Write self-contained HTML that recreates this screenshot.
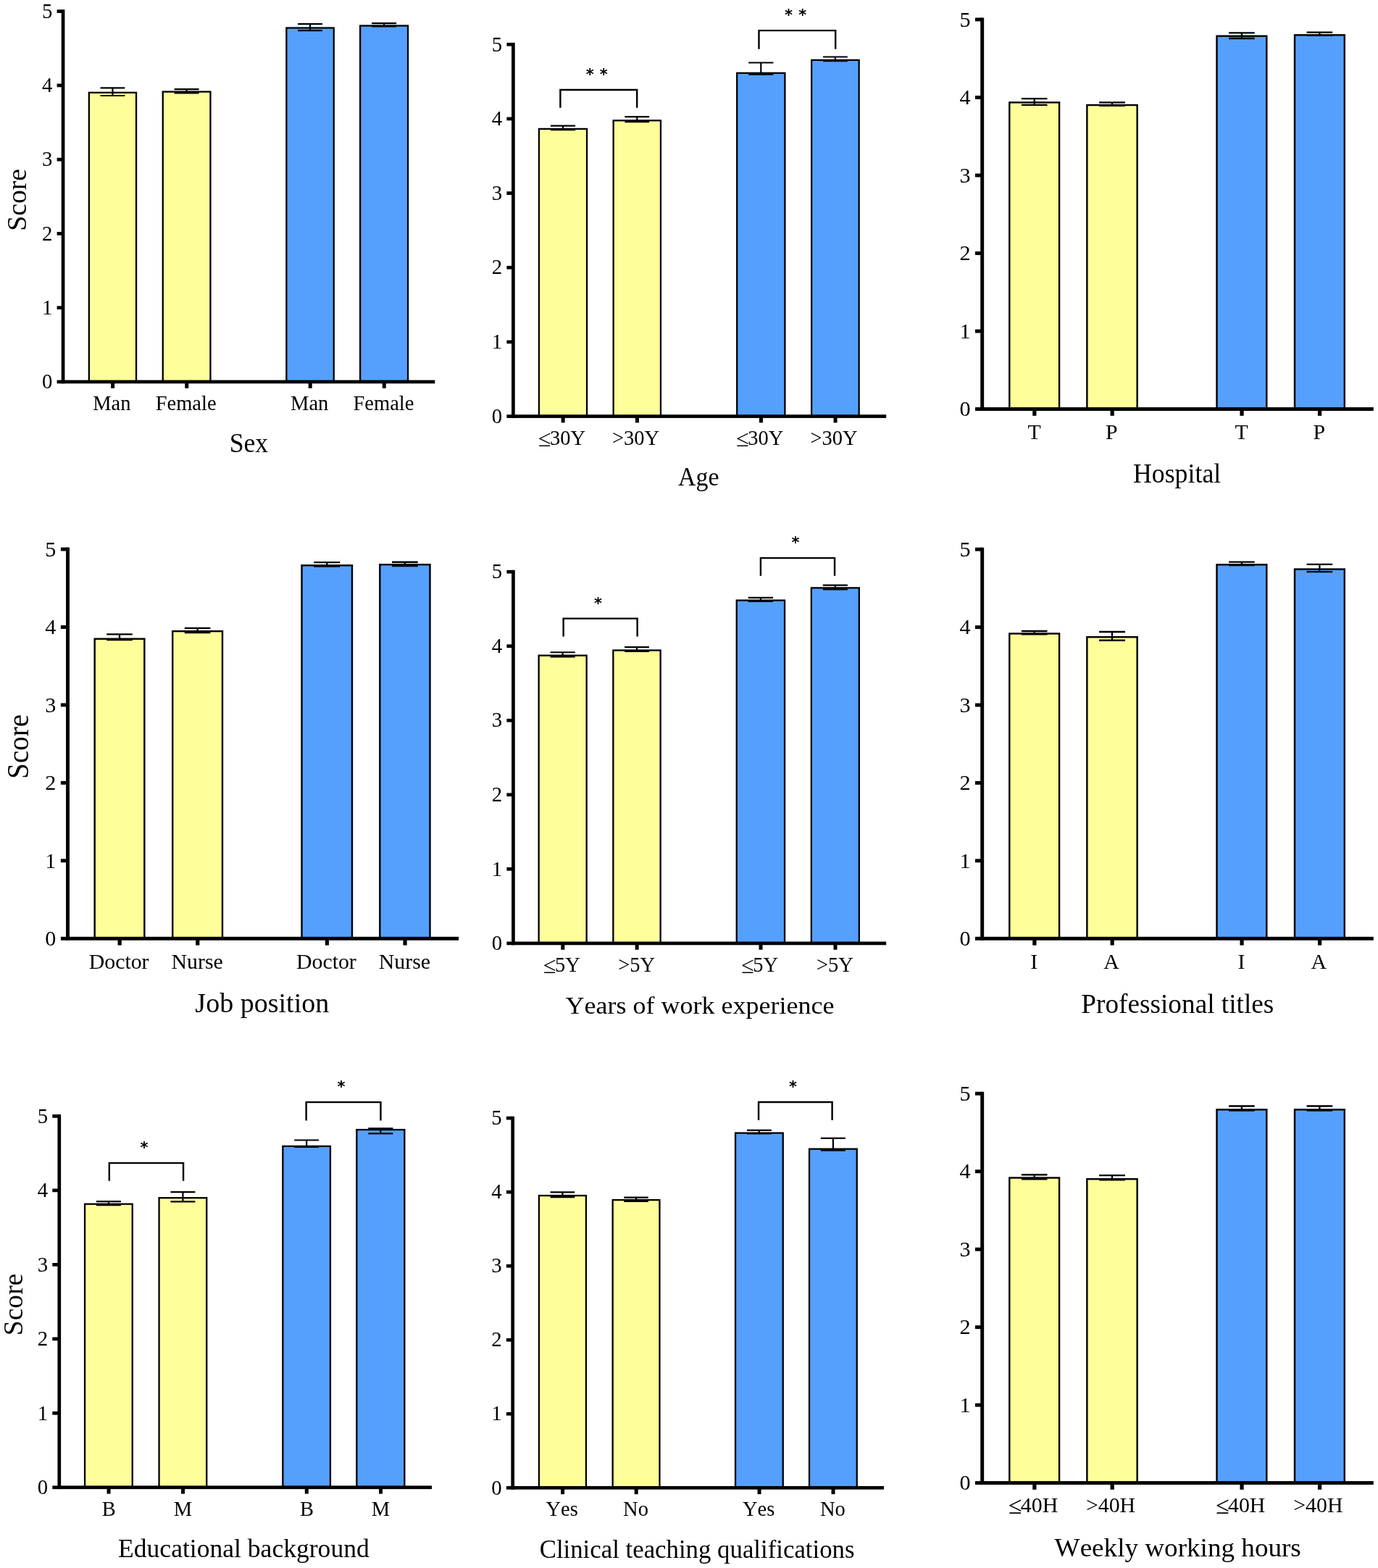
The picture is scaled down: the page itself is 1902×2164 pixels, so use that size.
<!DOCTYPE html>
<html><head><meta charset="utf-8"><title>Score by group</title>
<style>
html,body{margin:0;padding:0;background:#fff;}
body{width:1902px;height:2164px;overflow:hidden;}
svg{display:block;}
svg text{font-family:"Liberation Serif", "Times New Roman", serif;fill:#000;font-kerning:none;}
svg text.st{font-family:"DejaVu Sans",sans-serif;font-weight:bold;}
</style></head>
<body>
<svg width="1902" height="2164" viewBox="0 0 1902 2164">
<rect width="1902" height="2164" fill="#fff"/>
<rect x="122.85" y="127.8" width="65.2" height="399.15" fill="#FEFE9A" stroke="#000" stroke-width="2.3"/>
<rect x="224.75" y="126.6" width="65.7" height="400.35" fill="#FEFE9A" stroke="#000" stroke-width="2.3"/>
<rect x="395.35" y="38.5" width="65.4" height="488.45" fill="#55A0FC" stroke="#000" stroke-width="2.3"/>
<rect x="497.15" y="35.5" width="65.9" height="491.45" fill="#55A0FC" stroke="#000" stroke-width="2.3"/>
<path d="M155.45 121.3V132M138.57 121.3H172.32M138.57 132H172.32" stroke="#000" stroke-width="2.2" fill="none"/>
<path d="M257.6 123.1V128.4M240.6 123.1H274.6M240.6 128.4H274.6" stroke="#000" stroke-width="2.2" fill="none"/>
<path d="M428.05 33.1V42.1M411.12 33.1H444.98M411.12 42.1H444.98" stroke="#000" stroke-width="2.2" fill="none"/>
<path d="M530.1 32.1V36.3M513.05 32.1H547.15M513.05 36.3H547.15" stroke="#000" stroke-width="2.2" fill="none"/>
<rect x="84.7" y="13.25" width="4.7" height="516.05"/>
<rect x="78.6" y="524.6" width="521.7" height="4.7"/>
<rect x="78.6" y="422.33" width="8.45" height="4.7"/>
<rect x="78.6" y="320.06" width="8.45" height="4.7"/>
<rect x="78.6" y="217.79" width="8.45" height="4.7"/>
<rect x="78.6" y="115.52" width="8.45" height="4.7"/>
<rect x="78.6" y="13.25" width="8.45" height="4.7"/>
<rect x="153.1" y="526.95" width="5" height="8.85"/>
<rect x="255.25" y="526.95" width="5" height="8.85"/>
<rect x="425.7" y="526.95" width="5" height="8.85"/>
<rect x="527.75" y="526.95" width="5" height="8.85"/>
<text id="t0_0" transform="translate(72.4 536.17)" text-anchor="end" font-size="28.8">0</text>
<text id="t0_1" transform="translate(72.4 433.9)" text-anchor="end" font-size="28.8">1</text>
<text id="t0_2" transform="translate(72.4 331.63)" text-anchor="end" font-size="28.8">2</text>
<text id="t0_3" transform="translate(72.4 229.36)" text-anchor="end" font-size="28.8">3</text>
<text id="t0_4" transform="translate(72.4 127.09)" text-anchor="end" font-size="28.8">4</text>
<text id="t0_5" transform="translate(72.4 24.82)" text-anchor="end" font-size="28.8">5</text>
<text id="l0_0" transform="translate(154.4 565.7)" text-anchor="middle" font-size="28.5">Man</text>
<text id="l0_1" transform="translate(256.6 565.7)" text-anchor="middle" font-size="28.5">Female</text>
<text id="l0_2" transform="translate(427.2 565.8)" text-anchor="middle" font-size="28.5">Man</text>
<text id="l0_3" transform="translate(529.4 565.7)" text-anchor="middle" font-size="28.5">Female</text>
<text id="T0" transform="translate(343.4 624.4) scale(0.95 1)" text-anchor="middle" font-size="37.6">Sex</text>
<rect x="743.95" y="177.9" width="66.1" height="396.65" fill="#FEFE9A" stroke="#000" stroke-width="2.3"/>
<rect x="846.65" y="166.3" width="65.3" height="408.25" fill="#FEFE9A" stroke="#000" stroke-width="2.3"/>
<rect x="1017.2" y="100.8" width="66.2" height="473.75" fill="#55A0FC" stroke="#000" stroke-width="2.3"/>
<rect x="1120.15" y="82.9" width="65.5" height="491.65" fill="#55A0FC" stroke="#000" stroke-width="2.3"/>
<path d="M777 173.65V179.1M759.9 173.65H794.1M759.9 179.1H794.1" stroke="#000" stroke-width="2.2" fill="none"/>
<path d="M879.3 161.1V168.2M862.4 161.1H896.2M862.4 168.2H896.2" stroke="#000" stroke-width="2.2" fill="none"/>
<path d="M1050.3 86.5V102.7M1033.17 86.5H1067.42M1033.17 102.7H1067.42" stroke="#000" stroke-width="2.2" fill="none"/>
<path d="M1152.9 78.5V84.2M1135.95 78.5H1169.85M1135.95 84.2H1169.85" stroke="#000" stroke-width="2.2" fill="none"/>
<rect x="706.05" y="58.95" width="4.7" height="517.95"/>
<rect x="699.4" y="572.2" width="523.8" height="4.7"/>
<rect x="699.4" y="469.55" width="9" height="4.7"/>
<rect x="699.4" y="366.9" width="9" height="4.7"/>
<rect x="699.4" y="264.25" width="9" height="4.7"/>
<rect x="699.4" y="161.6" width="9" height="4.7"/>
<rect x="699.4" y="58.95" width="9" height="4.7"/>
<rect x="774.65" y="574.55" width="5" height="8.85"/>
<rect x="876.95" y="574.55" width="5" height="8.85"/>
<rect x="1047.95" y="574.55" width="5" height="8.85"/>
<rect x="1150.55" y="574.55" width="5" height="8.85"/>
<text id="t1_0" transform="translate(693.2 583.77)" text-anchor="end" font-size="28.8">0</text>
<text id="t1_1" transform="translate(693.2 481.12)" text-anchor="end" font-size="28.8">1</text>
<text id="t1_2" transform="translate(693.2 378.47)" text-anchor="end" font-size="28.8">2</text>
<text id="t1_3" transform="translate(693.2 275.82)" text-anchor="end" font-size="28.8">3</text>
<text id="t1_4" transform="translate(693.2 173.17)" text-anchor="end" font-size="28.8">4</text>
<text id="t1_5" transform="translate(693.2 70.52)" text-anchor="end" font-size="28.8">5</text>
<text x="742.89" y="613.6" font-size="28.5"><tspan font-size="32.34" dy="2.2">≤</tspan><tspan dx="-1.75" dy="-2.2">30Y</tspan></text>
<text id="l1_1" transform="translate(877.5 613.6)" text-anchor="middle" font-size="28.5">&gt;30Y</text>
<text x="1016.19" y="613.6" font-size="28.5"><tspan font-size="32.34" dy="2.2">≤</tspan><tspan dx="-1.75" dy="-2.2">30Y</tspan></text>
<text id="l1_3" transform="translate(1151.1 613.6)" text-anchor="middle" font-size="28.5">&gt;30Y</text>
<text id="T1" transform="translate(964.3 670.4) scale(0.94 1)" text-anchor="middle" font-size="36.05">Age</text>
<path d="M773.4 148.7V124H879.2V148.7" stroke="#000" stroke-width="2.4" fill="none"/>
<text id="s1_124_0" transform="translate(814.3 109.7)" text-anchor="middle" font-size="21" class="st">*</text>
<text id="s1_124_1" transform="translate(833.3 109.7)" text-anchor="middle" font-size="21" class="st">*</text>
<path d="M1047.5 67.7V42.15H1153.2V67.7" stroke="#000" stroke-width="2.4" fill="none"/>
<text id="s1_42_0" transform="translate(1088.5 28.35)" text-anchor="middle" font-size="21" class="st">*</text>
<text id="s1_42_1" transform="translate(1107.7 28.35)" text-anchor="middle" font-size="21" class="st">*</text>
<rect x="1393.31" y="141.4" width="68.79" height="423.15" fill="#FEFE9A" stroke="#000" stroke-width="2.41"/>
<rect x="1500.36" y="145" width="69.29" height="419.55" fill="#FEFE9A" stroke="#000" stroke-width="2.41"/>
<rect x="1679.51" y="49.75" width="68.79" height="514.8" fill="#55A0FC" stroke="#000" stroke-width="2.41"/>
<rect x="1787.01" y="48.35" width="68.79" height="516.2" fill="#55A0FC" stroke="#000" stroke-width="2.41"/>
<path d="M1427.7 136.1V144.9M1409.9 136.1H1445.5M1409.9 144.9H1445.5" stroke="#000" stroke-width="2.31" fill="none"/>
<path d="M1535 141.3V145.9M1517.08 141.3H1552.92M1517.08 145.9H1552.92" stroke="#000" stroke-width="2.31" fill="none"/>
<path d="M1713.9 45.4V53M1696.1 45.4H1731.7M1696.1 53H1731.7" stroke="#000" stroke-width="2.31" fill="none"/>
<path d="M1821.4 44.6V48.9M1803.6 44.6H1839.2M1803.6 48.9H1839.2" stroke="#000" stroke-width="2.31" fill="none"/>
<rect x="1353.24" y="24.49" width="4.93" height="542.53"/>
<rect x="1346" y="562.09" width="549.8" height="4.93"/>
<rect x="1346" y="454.57" width="9.7" height="4.93"/>
<rect x="1346" y="347.05" width="9.7" height="4.93"/>
<rect x="1346" y="239.53" width="9.7" height="4.93"/>
<rect x="1346" y="132.01" width="9.7" height="4.93"/>
<rect x="1346" y="24.49" width="9.7" height="4.93"/>
<rect x="1425.24" y="564.55" width="5.23" height="9.27"/>
<rect x="1532.54" y="564.55" width="5.23" height="9.27"/>
<rect x="1711.44" y="564.55" width="5.23" height="9.27"/>
<rect x="1818.94" y="564.55" width="5.23" height="9.27"/>
<text id="t2_0" transform="translate(1339.5 574.21)" text-anchor="end" font-size="30.18">0</text>
<text id="t2_1" transform="translate(1339.5 466.69)" text-anchor="end" font-size="30.18">1</text>
<text id="t2_2" transform="translate(1339.5 359.17)" text-anchor="end" font-size="30.18">2</text>
<text id="t2_3" transform="translate(1339.5 251.65)" text-anchor="end" font-size="30.18">3</text>
<text id="t2_4" transform="translate(1339.5 144.13)" text-anchor="end" font-size="30.18">4</text>
<text id="t2_5" transform="translate(1339.5 36.61)" text-anchor="end" font-size="30.18">5</text>
<text id="l2_0" transform="translate(1427.5 606.2)" text-anchor="middle" font-size="29.87">T</text>
<text id="l2_1" transform="translate(1534.35 606.2)" text-anchor="middle" font-size="29.87">P</text>
<text id="l2_2" transform="translate(1713.7 606.2)" text-anchor="middle" font-size="29.87">T</text>
<text id="l2_3" transform="translate(1820.75 606.2)" text-anchor="middle" font-size="29.87">P</text>
<text id="T2" transform="translate(1624.6 666.4) scale(0.93 1)" text-anchor="middle" font-size="38.52">Hospital</text>
<rect x="130.66" y="881.7" width="68.69" height="413.6" fill="#FEFE9A" stroke="#000" stroke-width="2.41"/>
<rect x="238.21" y="871.15" width="68.79" height="424.15" fill="#FEFE9A" stroke="#000" stroke-width="2.41"/>
<rect x="416.51" y="780.3" width="69.49" height="515" fill="#55A0FC" stroke="#000" stroke-width="2.41"/>
<rect x="524.31" y="779.2" width="69.19" height="516.1" fill="#55A0FC" stroke="#000" stroke-width="2.41"/>
<path d="M165 875.4V883.1M147.22 875.4H182.78M147.22 883.1H182.78" stroke="#000" stroke-width="2.31" fill="none"/>
<path d="M272.6 866.8V873.1M254.8 866.8H290.4M254.8 873.1H290.4" stroke="#000" stroke-width="2.31" fill="none"/>
<path d="M451.25 776.2V781.7M433.27 776.2H469.23M433.27 781.7H469.23" stroke="#000" stroke-width="2.31" fill="none"/>
<path d="M558.9 775.75V781M541 775.75H576.8M541 781H576.8" stroke="#000" stroke-width="2.31" fill="none"/>
<rect x="91.04" y="755.54" width="4.93" height="542.23"/>
<rect x="83.9" y="1292.84" width="549.2" height="4.93"/>
<rect x="83.9" y="1185.38" width="9.6" height="4.93"/>
<rect x="83.9" y="1077.92" width="9.6" height="4.93"/>
<rect x="83.9" y="970.46" width="9.6" height="4.93"/>
<rect x="83.9" y="863" width="9.6" height="4.93"/>
<rect x="83.9" y="755.54" width="9.6" height="4.93"/>
<rect x="162.54" y="1295.3" width="5.23" height="9.27"/>
<rect x="270.14" y="1295.3" width="5.23" height="9.27"/>
<rect x="448.79" y="1295.3" width="5.23" height="9.27"/>
<rect x="556.44" y="1295.3" width="5.23" height="9.27"/>
<text id="t3_0" transform="translate(77.4 1304.96)" text-anchor="end" font-size="30.18">0</text>
<text id="t3_1" transform="translate(77.4 1197.5)" text-anchor="end" font-size="30.18">1</text>
<text id="t3_2" transform="translate(77.4 1090.04)" text-anchor="end" font-size="30.18">2</text>
<text id="t3_3" transform="translate(77.4 982.58)" text-anchor="end" font-size="30.18">3</text>
<text id="t3_4" transform="translate(77.4 875.12)" text-anchor="end" font-size="30.18">4</text>
<text id="t3_5" transform="translate(77.4 767.66)" text-anchor="end" font-size="30.18">5</text>
<text id="l3_0" transform="translate(164.1 1336.8)" text-anchor="middle" font-size="29.87">Doctor</text>
<text id="l3_1" transform="translate(272.1 1336.8)" text-anchor="middle" font-size="29.87">Nurse</text>
<text id="l3_2" transform="translate(450.35 1336.8)" text-anchor="middle" font-size="29.87">Doctor</text>
<text id="l3_3" transform="translate(558.4 1336.8)" text-anchor="middle" font-size="29.87">Nurse</text>
<text id="T3" transform="translate(361.8 1397) scale(1.01 1)" text-anchor="middle" font-size="37.67">Job position</text>
<rect x="743.65" y="904.65" width="66" height="397.25" fill="#FEFE9A" stroke="#000" stroke-width="2.3"/>
<rect x="846.35" y="897.5" width="65.3" height="404.4" fill="#FEFE9A" stroke="#000" stroke-width="2.3"/>
<rect x="1016.75" y="828.55" width="66.3" height="473.35" fill="#55A0FC" stroke="#000" stroke-width="2.3"/>
<rect x="1119.85" y="811.35" width="66" height="490.55" fill="#55A0FC" stroke="#000" stroke-width="2.3"/>
<path d="M776.65 900.25V906.5M759.57 900.25H793.73M759.57 906.5H793.73" stroke="#000" stroke-width="2.2" fill="none"/>
<path d="M879 893.1V899M862.1 893.1H895.9M862.1 899H895.9" stroke="#000" stroke-width="2.2" fill="none"/>
<path d="M1049.9 824.8V830M1032.75 824.8H1067.05M1032.75 830H1067.05" stroke="#000" stroke-width="2.2" fill="none"/>
<path d="M1152.85 807.6V813.45M1135.77 807.6H1169.92M1135.77 813.45H1169.92" stroke="#000" stroke-width="2.2" fill="none"/>
<rect x="706.1" y="786.8" width="4.7" height="517.45"/>
<rect x="699.4" y="1299.55" width="523.8" height="4.7"/>
<rect x="699.4" y="1197" width="9.05" height="4.7"/>
<rect x="699.4" y="1094.45" width="9.05" height="4.7"/>
<rect x="699.4" y="991.9" width="9.05" height="4.7"/>
<rect x="699.4" y="889.35" width="9.05" height="4.7"/>
<rect x="699.4" y="786.8" width="9.05" height="4.7"/>
<rect x="774.3" y="1301.9" width="5" height="8.85"/>
<rect x="876.65" y="1301.9" width="5" height="8.85"/>
<rect x="1047.55" y="1301.9" width="5" height="8.85"/>
<rect x="1150.5" y="1301.9" width="5" height="8.85"/>
<text id="t4_0" transform="translate(693.2 1311.12)" text-anchor="end" font-size="28.8">0</text>
<text id="t4_1" transform="translate(693.2 1208.57)" text-anchor="end" font-size="28.8">1</text>
<text id="t4_2" transform="translate(693.2 1106.02)" text-anchor="end" font-size="28.8">2</text>
<text id="t4_3" transform="translate(693.2 1003.47)" text-anchor="end" font-size="28.8">3</text>
<text id="t4_4" transform="translate(693.2 900.92)" text-anchor="end" font-size="28.8">4</text>
<text id="t4_5" transform="translate(693.2 798.37)" text-anchor="end" font-size="28.8">5</text>
<text x="750.02" y="1340.6" font-size="28.5"><tspan font-size="32.34" dy="2.2">≤</tspan><tspan dx="-1.75" dy="-2.2">5Y</tspan></text>
<text id="l4_1" transform="translate(878.6 1340.6)" text-anchor="middle" font-size="28.5">&gt;5Y</text>
<text x="1023.27" y="1340.6" font-size="28.5"><tspan font-size="32.34" dy="2.2">≤</tspan><tspan dx="-1.75" dy="-2.2">5Y</tspan></text>
<text id="l4_3" transform="translate(1152.45 1340.6)" text-anchor="middle" font-size="28.5">&gt;5Y</text>
<text id="T4" transform="translate(965.9 1399) scale(1.04 1)" text-anchor="middle" font-size="34.64">Years of work experience</text>
<path d="M777.65 878.5V853.65H879.65V878.5" stroke="#000" stroke-width="2.4" fill="none"/>
<text id="s4_853_0" transform="translate(825.4 839.65)" text-anchor="middle" font-size="21" class="st">*</text>
<path d="M1049.9 794.7V770.15H1152.05V794.7" stroke="#000" stroke-width="2.4" fill="none"/>
<text id="s4_770_0" transform="translate(1097.9 756.1)" text-anchor="middle" font-size="21" class="st">*</text>
<rect x="1393.31" y="874.45" width="68.79" height="420.85" fill="#FEFE9A" stroke="#000" stroke-width="2.41"/>
<rect x="1500.36" y="879.2" width="69.29" height="416.1" fill="#FEFE9A" stroke="#000" stroke-width="2.41"/>
<rect x="1679.51" y="779.3" width="68.79" height="516" fill="#55A0FC" stroke="#000" stroke-width="2.41"/>
<rect x="1787.01" y="785.55" width="68.79" height="509.75" fill="#55A0FC" stroke="#000" stroke-width="2.41"/>
<path d="M1427.7 871V875.45M1409.9 871H1445.5M1409.9 875.45H1445.5" stroke="#000" stroke-width="2.31" fill="none"/>
<path d="M1535 872V883.75M1517.08 872H1552.92M1517.08 883.75H1552.92" stroke="#000" stroke-width="2.31" fill="none"/>
<path d="M1713.9 775.6V780M1696.1 775.6H1731.7M1696.1 780H1731.7" stroke="#000" stroke-width="2.31" fill="none"/>
<path d="M1821.4 778.9V789.1M1803.6 778.9H1839.2M1803.6 789.1H1839.2" stroke="#000" stroke-width="2.31" fill="none"/>
<rect x="1353.24" y="755.69" width="4.93" height="542.08"/>
<rect x="1346" y="1292.84" width="549.8" height="4.93"/>
<rect x="1346" y="1185.41" width="9.7" height="4.93"/>
<rect x="1346" y="1077.98" width="9.7" height="4.93"/>
<rect x="1346" y="970.55" width="9.7" height="4.93"/>
<rect x="1346" y="863.12" width="9.7" height="4.93"/>
<rect x="1346" y="755.69" width="9.7" height="4.93"/>
<rect x="1425.24" y="1295.3" width="5.23" height="9.27"/>
<rect x="1532.54" y="1295.3" width="5.23" height="9.27"/>
<rect x="1711.44" y="1295.3" width="5.23" height="9.27"/>
<rect x="1818.94" y="1295.3" width="5.23" height="9.27"/>
<text id="t5_0" transform="translate(1339.5 1304.96)" text-anchor="end" font-size="30.18">0</text>
<text id="t5_1" transform="translate(1339.5 1197.53)" text-anchor="end" font-size="30.18">1</text>
<text id="t5_2" transform="translate(1339.5 1090.1)" text-anchor="end" font-size="30.18">2</text>
<text id="t5_3" transform="translate(1339.5 982.67)" text-anchor="end" font-size="30.18">3</text>
<text id="t5_4" transform="translate(1339.5 875.24)" text-anchor="end" font-size="30.18">4</text>
<text id="t5_5" transform="translate(1339.5 767.81)" text-anchor="end" font-size="30.18">5</text>
<text id="l5_0" transform="translate(1427.2 1336.8)" text-anchor="middle" font-size="29.87">I</text>
<text id="l5_1" transform="translate(1534 1336.8)" text-anchor="middle" font-size="29.87">A</text>
<text id="l5_2" transform="translate(1713.4 1336.8)" text-anchor="middle" font-size="29.87">I</text>
<text id="l5_3" transform="translate(1820.4 1336.8)" text-anchor="middle" font-size="29.87">A</text>
<text id="T5" transform="translate(1625.3 1397.6) scale(1.01 1)" text-anchor="middle" font-size="36.92">Professional titles</text>
<rect x="117.05" y="1661.7" width="65.7" height="391.05" fill="#FEFE9A" stroke="#000" stroke-width="2.3"/>
<rect x="219.55" y="1653.2" width="65.7" height="399.55" fill="#FEFE9A" stroke="#000" stroke-width="2.3"/>
<rect x="390.35" y="1581.9" width="65.6" height="470.85" fill="#55A0FC" stroke="#000" stroke-width="2.3"/>
<rect x="492.35" y="1559.1" width="66" height="493.65" fill="#55A0FC" stroke="#000" stroke-width="2.3"/>
<path d="M149.9 1658.15V1663.05M132.9 1658.15H166.9M132.9 1663.05H166.9" stroke="#000" stroke-width="2.2" fill="none"/>
<path d="M252.4 1645.1V1658.4M235.4 1645.1H269.4M235.4 1658.4H269.4" stroke="#000" stroke-width="2.2" fill="none"/>
<path d="M423.15 1573.5V1583M406.17 1573.5H440.12M406.17 1583H440.12" stroke="#000" stroke-width="2.2" fill="none"/>
<path d="M525.35 1557.4V1564.35M508.28 1557.4H542.43M508.28 1564.35H542.43" stroke="#000" stroke-width="2.2" fill="none"/>
<rect x="79.45" y="1538.05" width="4.7" height="517.05"/>
<rect x="72.3" y="2050.4" width="523.7" height="4.7"/>
<rect x="72.3" y="1947.93" width="9.5" height="4.7"/>
<rect x="72.3" y="1845.46" width="9.5" height="4.7"/>
<rect x="72.3" y="1742.99" width="9.5" height="4.7"/>
<rect x="72.3" y="1640.52" width="9.5" height="4.7"/>
<rect x="72.3" y="1538.05" width="9.5" height="4.7"/>
<rect x="147.55" y="2052.75" width="5" height="8.85"/>
<rect x="250.05" y="2052.75" width="5" height="8.85"/>
<rect x="420.8" y="2052.75" width="5" height="8.85"/>
<rect x="523" y="2052.75" width="5" height="8.85"/>
<text id="t6_0" transform="translate(66.1 2061.97)" text-anchor="end" font-size="28.8">0</text>
<text id="t6_1" transform="translate(66.1 1959.5)" text-anchor="end" font-size="28.8">1</text>
<text id="t6_2" transform="translate(66.1 1857.03)" text-anchor="end" font-size="28.8">2</text>
<text id="t6_3" transform="translate(66.1 1754.56)" text-anchor="end" font-size="28.8">3</text>
<text id="t6_4" transform="translate(66.1 1652.09)" text-anchor="end" font-size="28.8">4</text>
<text id="t6_5" transform="translate(66.1 1549.62)" text-anchor="end" font-size="28.8">5</text>
<text id="l6_0" transform="translate(150.2 2091.8)" text-anchor="middle" font-size="28.5">B</text>
<text id="l6_1" transform="translate(252.5 2091.8)" text-anchor="middle" font-size="28.5">M</text>
<text id="l6_2" transform="translate(423.45 2091.8)" text-anchor="middle" font-size="28.5">B</text>
<text id="l6_3" transform="translate(525.45 2091.8)" text-anchor="middle" font-size="28.5">M</text>
<text id="T6" transform="translate(336.4 2148.6) scale(1.02 1)" text-anchor="middle" font-size="34.87">Educational background</text>
<path d="M150.8 1629.7V1605.15H253.05V1629.7" stroke="#000" stroke-width="2.4" fill="none"/>
<text id="s6_1605_0" transform="translate(199 1590.85)" text-anchor="middle" font-size="21" class="st">*</text>
<path d="M422.65 1546.5V1521.15H525.45V1546.5" stroke="#000" stroke-width="2.4" fill="none"/>
<text id="s6_1521_0" transform="translate(471 1507.1)" text-anchor="middle" font-size="21" class="st">*</text>
<rect x="743.95" y="1650.05" width="65" height="403.25" fill="#FEFE9A" stroke="#000" stroke-width="2.3"/>
<rect x="845.65" y="1656.05" width="64.8" height="397.25" fill="#FEFE9A" stroke="#000" stroke-width="2.3"/>
<rect x="1015.05" y="1563.65" width="65.7" height="489.65" fill="#55A0FC" stroke="#000" stroke-width="2.3"/>
<rect x="1117.05" y="1585.7" width="65.7" height="467.6" fill="#55A0FC" stroke="#000" stroke-width="2.3"/>
<path d="M776.45 1645.4V1652.15M759.62 1645.4H793.28M759.62 1652.15H793.28" stroke="#000" stroke-width="2.2" fill="none"/>
<path d="M878.05 1652.7V1657.8M861.27 1652.7H894.82M861.27 1657.8H894.82" stroke="#000" stroke-width="2.2" fill="none"/>
<path d="M1047.9 1559.9V1564.5M1030.9 1559.9H1064.9M1030.9 1564.5H1064.9" stroke="#000" stroke-width="2.2" fill="none"/>
<path d="M1149.9 1570.95V1587.75M1132.9 1570.95H1166.9M1132.9 1587.75H1166.9" stroke="#000" stroke-width="2.2" fill="none"/>
<rect x="705.35" y="1540.75" width="4.7" height="514.9"/>
<rect x="698.9" y="2050.95" width="521.1" height="4.7"/>
<rect x="698.9" y="1948.91" width="8.8" height="4.7"/>
<rect x="698.9" y="1846.87" width="8.8" height="4.7"/>
<rect x="698.9" y="1744.83" width="8.8" height="4.7"/>
<rect x="698.9" y="1642.79" width="8.8" height="4.7"/>
<rect x="698.9" y="1540.75" width="8.8" height="4.7"/>
<rect x="774.1" y="2053.3" width="5" height="8.85"/>
<rect x="875.7" y="2053.3" width="5" height="8.85"/>
<rect x="1045.55" y="2053.3" width="5" height="8.85"/>
<rect x="1147.55" y="2053.3" width="5" height="8.85"/>
<text id="t7_0" transform="translate(692.7 2062.52)" text-anchor="end" font-size="28.8">0</text>
<text id="t7_1" transform="translate(692.7 1960.48)" text-anchor="end" font-size="28.8">1</text>
<text id="t7_2" transform="translate(692.7 1858.44)" text-anchor="end" font-size="28.8">2</text>
<text id="t7_3" transform="translate(692.7 1756.4)" text-anchor="end" font-size="28.8">3</text>
<text id="t7_4" transform="translate(692.7 1654.36)" text-anchor="end" font-size="28.8">4</text>
<text id="t7_5" transform="translate(692.7 1552.32)" text-anchor="end" font-size="28.8">5</text>
<text id="l7_0" transform="translate(775.6 2092)" text-anchor="middle" font-size="28.5">Yes</text>
<text id="l7_1" transform="translate(877.5 2092)" text-anchor="middle" font-size="28.5">No</text>
<text id="l7_2" transform="translate(1047.05 2092)" text-anchor="middle" font-size="28.5">Yes</text>
<text id="l7_3" transform="translate(1149.35 2092)" text-anchor="middle" font-size="28.5">No</text>
<text id="T7" transform="translate(962.1 2149.6) scale(0.98 1)" text-anchor="middle" font-size="35.53">Clinical teaching qualifications</text>
<path d="M1047.05 1545.9V1520.95H1148.6V1545.9" stroke="#000" stroke-width="2.4" fill="none"/>
<text id="s7_1520_0" transform="translate(1094.5 1506.8)" text-anchor="middle" font-size="21" class="st">*</text>
<rect x="1393.31" y="1625.5" width="68.79" height="421.05" fill="#FEFE9A" stroke="#000" stroke-width="2.41"/>
<rect x="1500.36" y="1627.2" width="69.29" height="419.35" fill="#FEFE9A" stroke="#000" stroke-width="2.41"/>
<rect x="1679.51" y="1531.4" width="68.79" height="515.15" fill="#55A0FC" stroke="#000" stroke-width="2.41"/>
<rect x="1787.01" y="1531.4" width="68.79" height="515.15" fill="#55A0FC" stroke="#000" stroke-width="2.41"/>
<path d="M1427.7 1621.25V1627.3M1409.9 1621.25H1445.5M1409.9 1627.3H1445.5" stroke="#000" stroke-width="2.31" fill="none"/>
<path d="M1535 1622.05V1628.4M1517.08 1622.05H1552.92M1517.08 1628.4H1552.92" stroke="#000" stroke-width="2.31" fill="none"/>
<path d="M1713.9 1526.5V1532.5M1696.1 1526.5H1731.7M1696.1 1532.5H1731.7" stroke="#000" stroke-width="2.31" fill="none"/>
<path d="M1821.4 1526.5V1532.5M1803.6 1526.5H1839.2M1803.6 1532.5H1839.2" stroke="#000" stroke-width="2.31" fill="none"/>
<rect x="1353.24" y="1506.79" width="4.93" height="542.23"/>
<rect x="1346" y="2044.09" width="549.8" height="4.93"/>
<rect x="1346" y="1936.63" width="9.7" height="4.93"/>
<rect x="1346" y="1829.17" width="9.7" height="4.93"/>
<rect x="1346" y="1721.71" width="9.7" height="4.93"/>
<rect x="1346" y="1614.25" width="9.7" height="4.93"/>
<rect x="1346" y="1506.79" width="9.7" height="4.93"/>
<rect x="1425.24" y="2046.55" width="5.23" height="9.27"/>
<rect x="1532.54" y="2046.55" width="5.23" height="9.27"/>
<rect x="1711.44" y="2046.55" width="5.23" height="9.27"/>
<rect x="1818.94" y="2046.55" width="5.23" height="9.27"/>
<text id="t8_0" transform="translate(1339.5 2056.21)" text-anchor="end" font-size="30.18">0</text>
<text id="t8_1" transform="translate(1339.5 1948.75)" text-anchor="end" font-size="30.18">1</text>
<text id="t8_2" transform="translate(1339.5 1841.29)" text-anchor="end" font-size="30.18">2</text>
<text id="t8_3" transform="translate(1339.5 1733.83)" text-anchor="end" font-size="30.18">3</text>
<text id="t8_4" transform="translate(1339.5 1626.37)" text-anchor="end" font-size="30.18">4</text>
<text id="t8_5" transform="translate(1339.5 1518.91)" text-anchor="end" font-size="30.18">5</text>
<text x="1392.03" y="2087" font-size="29.87"><tspan font-size="33.89" dy="2.31">≤</tspan><tspan dx="-1.83" dy="-2.31">40H</tspan></text>
<text id="l8_1" transform="translate(1533 2087)" text-anchor="middle" font-size="29.87">&gt;40H</text>
<text x="1678.23" y="2087" font-size="29.87"><tspan font-size="33.89" dy="2.31">≤</tspan><tspan dx="-1.83" dy="-2.31">40H</tspan></text>
<text id="l8_3" transform="translate(1819.4 2087)" text-anchor="middle" font-size="29.87">&gt;40H</text>
<text id="T8" transform="translate(1625.7 2147.8) scale(1.01 1)" text-anchor="middle" font-size="36.77">Weekly working hours</text>
<text id="S0" transform="translate(36.2 275.9) rotate(-90) scale(1.02 1)" text-anchor="middle" font-size="37">Score</text>
<text id="S3" transform="translate(39.4 1030.45) rotate(-90) scale(0.95 1)" text-anchor="middle" font-size="41.27">Score</text>
<text id="S6" transform="translate(31 1800.45) rotate(-90) scale(1 1)" text-anchor="middle" font-size="37.59">Score</text>
</svg>
</body></html>
